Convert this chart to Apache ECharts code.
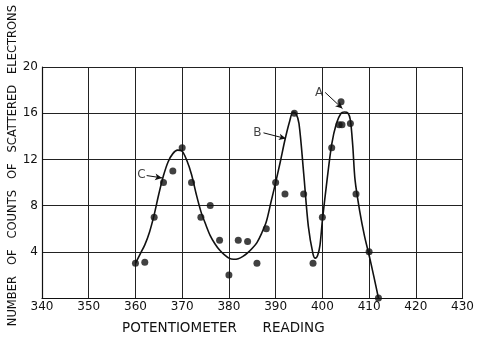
<!DOCTYPE html>
<html>
<head>
<meta charset="utf-8">
<script src="https://cdn.jsdelivr.net/npm/echarts@6/dist/echarts.min.js"></script>
<style>
  html, body { margin: 0; padding: 0; background: #fff; }
  #chart { width: 477px; height: 339px; }
</style>
</head>
<body>
<div id="chart"></div>
<script>
// measured counts (dots)
var pointX = [360, 362, 364, 366, 368, 370, 372, 374, 376, 378, 380, 382, 384, 386, 388, 390, 392, 394, 396, 398, 400, 402, 404, 403.6, 404.2, 406, 407.2, 410, 412];
var pointY = [3, 3.1, 7, 10, 11, 13, 10, 7, 8, 5, 2, 5, 4.9, 3, 6, 10, 9, 16, 9, 3, 7, 13, 17, 15, 15, 15.1, 9, 4, 0];

// fitted curve
var curveX = [360, 361, 362, 363, 364, 365, 366, 367, 368, 369, 370, 371, 372, 373, 374, 375, 376, 377, 378, 379, 380, 381, 382, 383, 384, 385, 386, 387, 388, 389, 390, 391, 392, 393, 393.7, 394.3, 395, 396, 397, 398, 398.5, 399, 399.5, 400, 401, 402, 403, 404, 404.7, 405.5, 406, 406.5, 407, 408, 409, 410, 411, 412];
var curveY = [3.0, 3.8, 4.6, 5.7, 7.2, 9.0, 10.6, 11.8, 12.5, 12.8, 12.7, 11.9, 10.7, 9.0, 7.5, 6.4, 5.4, 4.7, 4.15, 3.75, 3.45, 3.35, 3.4, 3.6, 3.9, 4.3, 4.8, 5.6, 6.6, 8.3, 10.0, 11.8, 13.7, 15.3, 16.1, 16.0, 15.1, 10.8, 6.2, 3.8, 3.45, 3.7, 4.6, 6.7, 10.2, 13.3, 15.1, 16.0, 16.1, 16.0, 15.4, 13.2, 10.2, 7.5, 5.4, 3.7, 1.9, 0];

// peak labels and their leaders
var labelNames = ['A', 'B', 'C'];
var labelPos = [[399.3, 17.8], [386.1, 14.3], [361.3, 10.65]];
var leaderFrom = [[400.6, 17.8], [387.4, 14.3], [362.4, 10.6]];
var leaderTo = [[404.3, 16.4], [392.2, 13.8], [365.7, 10.4]];

var xTicks = [340, 350, 360, 370, 380, 390, 400, 410, 420, 430];
var yTicks = [0, 4, 8, 12, 16, 20];

var chart = echarts.init(document.getElementById('chart'));

var dots = [];
for (var i = 0; i < pointX.length; i++) dots.push([pointX[i], pointY[i]]);
var curve = [];
for (var j = 0; j < curveX.length; j++) curve.push([curveX[j], curveY[j]]);
var labels = [];
for (var k = 0; k < labelNames.length; k++) labels.push({ name: labelNames[k], value: labelPos[k] });
var leaders = [];
for (var m = 0; m < leaderFrom.length; m++) leaders.push([{ coord: leaderFrom[m] }, { coord: leaderTo[m] }]);

var font = 'DejaVu Sans';

chart.setOption({
  animation: false,
  backgroundColor: '#fff',
  grid: { left: 42, right: 13, top: 67, bottom: 41 },
  xAxis: {
    type: 'value',
    min: xTicks[0], max: xTicks[xTicks.length - 1], interval: 10,
    axisLine: { lineStyle: { color: '#111', width: 1.2 } },
    axisTick: { show: false },
    splitLine: { lineStyle: { color: '#222', width: 1 } },
    axisLabel: { color: '#111', fontFamily: font, fontSize: 12, margin: 3 }
  },
  yAxis: {
    type: 'value',
    min: yTicks[0], max: yTicks[yTicks.length - 1], interval: 4,
    axisLine: { show: true, lineStyle: { color: '#111', width: 1.2 } },
    axisTick: { show: false },
    splitLine: { lineStyle: { color: '#222', width: 1 } },
    axisLabel: {
      color: '#111', fontFamily: font, fontSize: 12, margin: 4,
      formatter: function (v) { return v === 0 ? '' : String(v); }
    }
  },
  graphic: [{
    type: 'text',
    left: 7, top: 5,
    rotation: Math.PI / 2,
    style: {
      text: 'NUMBER   OF   COUNTS   OF   SCATTERED   ELECTRONS',
      font: '11.5px ' + font,
      fill: '#111'
    }
  }, {
    type: 'text',
    left: 122, top: 321,
    style: {
      text: 'POTENTIOMETER      READING',
      font: '13.5px ' + font,
      fill: '#111'
    }
  }],
  series: [
    {
      type: 'line',
      data: curve,
      smooth: 0.3,
      showSymbol: false,
      lineStyle: { color: '#111', width: 1.6 },
      z: 3
    },
    {
      type: 'scatter',
      data: dots,
      symbol: 'circle',
      symbolSize: 7,
      itemStyle: { color: '#111' },
      z: 4
    },
    {
      type: 'scatter',
      data: labels,
      symbolSize: 0,
      label: {
        show: true, position: 'inside', formatter: '{b}',
        color: '#111', fontFamily: font, fontSize: 12
      },
      markLine: {
        silent: true,
        symbol: ['none', 'arrow'],
        symbolSize: [5, 7],
        label: { show: false },
        lineStyle: { color: '#111', width: 1, type: 'solid' },
        data: leaders
      }
    }
  ]
});
</script>
</body>
</html>
